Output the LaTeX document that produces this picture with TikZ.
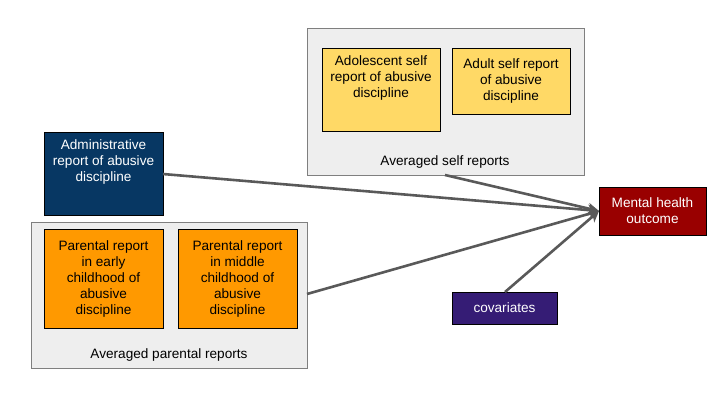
\documentclass[tikz,border=0pt]{standalone}
\usepackage{fontspec}
\setmainfont{Liberation Sans}
\usetikzlibrary{arrows.meta}
\definecolor{grpfill}{HTML}{EEEEEE}
\definecolor{grpline}{HTML}{7F7F7F}
\definecolor{yel}{HTML}{FFD966}
\definecolor{org}{HTML}{FF9900}
\definecolor{navy}{HTML}{073763}
\definecolor{dred}{HTML}{990000}
\definecolor{purp}{HTML}{351C75}
\definecolor{arr}{HTML}{595959}
\begin{document}
\begin{tikzpicture}[x=1pt,y=-1pt,
  txt/.style={font=\fontsize{13.6}{16}\selectfont},
  grp/.style={draw=grpline,fill=grpfill,line width=0.8pt},
  bx/.style={draw=black,line width=0.8pt},
  conn/.style={draw=arr,line width=2.6pt,-{Stealth[length=11pt,width=11pt,inset=3pt]}}]
\useasboundingbox (0,0) rectangle (720,405);
% groups
\path[grp] (307,28) rectangle (584,175);
\node[inner sep=0] (selfgrp) at (445.5,101.5) [minimum width=277pt,minimum height=147pt] {};
\node[txt,anchor=base] (selflbl) at (445,165) {Averaged self reports};
\path[grp] (31,222) rectangle (307,368);
\node[inner sep=0] (pargrp) at (169,295) [minimum width=276pt,minimum height=146pt] {};
\node[txt,anchor=base] (parlbl) at (169,358) {Averaged parental reports};
% boxes
\path[bx,fill=yel] (322,48) rectangle (440,131);
\node[txt,align=center,anchor=north] (adol) at (381,52) {Adolescent self\\report of abusive\\discipline};
\path[bx,fill=yel] (452,48) rectangle (570,114);
\node[txt,align=center] (adult) at (511,81) {Adult self report\\of abusive\\discipline};
\path[bx,fill=navy] (44,132) rectangle (163,215);
\node[txt,align=center,text=white,anchor=north] (admin) at (103.5,136) {Administrative\\report of abusive\\discipline};
\coordinate (adminR) at (163,174);
\path[bx,fill=org] (44,229) rectangle (163,328);
\node[txt,align=center] (early) at (103.5,278.5) {Parental report\\in early\\childhood of\\abusive\\discipline};
\path[bx,fill=org] (178,229) rectangle (297,328);
\node[txt,align=center] (middle) at (237.5,278.5) {Parental report\\in middle\\childhood of\\abusive\\discipline};
\path[bx,fill=dred] (599,187) rectangle (706,235);
\node[txt,align=center,text=white] (mh) at (652.5,211) {Mental health\\outcome};
\coordinate (mhL) at (599,211);
\path[bx,fill=purp] (452,292) rectangle (557,324);
\node[txt,text=white] (cov) at (504.5,308) {covariates};
\coordinate (covT) at (505,292);
\coordinate (selfB) at (445,175);
\coordinate (parR) at (307,294);
% connectors
\draw[conn] (adminR) -- (mhL);
\draw[conn] (selfB) -- (mhL);
\draw[conn] (parR) -- (mhL);
\draw[conn] (covT) -- (mhL);
\end{tikzpicture}
\end{document}
